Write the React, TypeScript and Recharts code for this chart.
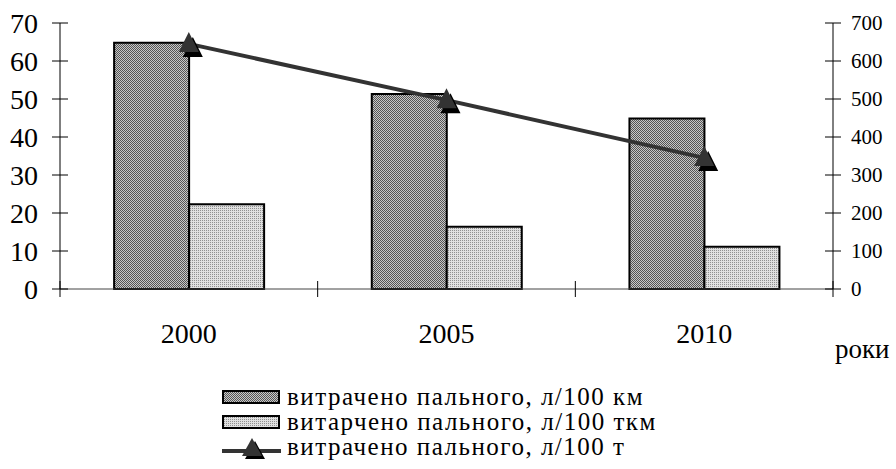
import React from 'react';
import { ComposedChart, Bar, Line, XAxis, YAxis } from 'recharts';

const years = ['2000', '2005', '2010'];
const fuelPer100km = [64.8, 51.3, 44.9];
const fuelPer100tkm = [22.3, 16.4, 11.1];
const fuelPer100t = [645, 497, 345];
const leftTicks = [0, 10, 20, 30, 40, 50, 60, 70];
const rightTicks = [0, 100, 200, 300, 400, 500, 600, 700];

const seriesNames = [
  'витрачено пального, л/100 км',
  'витарчено пального, л/100 ткм',
  'витрачено пального, л/100 т',
];

const data = years.map((y, i) => ({
  year: y,
  km: fuelPer100km[i],
  tkm: fuelPer100tkm[i],
  t: fuelPer100t[i],
}));

const FONT = '"Liberation Serif", "Times New Roman", serif';

const LeftTick = (props: any) => {
  const { x, y, payload } = props;
  return (
    <g>
      <line x1={x - 8} x2={x + 8} y1={y} y2={y} stroke="#000" strokeWidth={1} />
      <text x={x - 22} y={y} dy={10} textAnchor="end" fontFamily={FONT} fontSize={28} fill="#000">
        {payload.value}
      </text>
    </g>
  );
};

const RightTick = (props: any) => {
  const { x, y, payload } = props;
  return (
    <g>
      <line x1={x - 8} x2={x + 8} y1={y} y2={y} stroke="#000" strokeWidth={1} />
      <text x={x + 18} y={y} dy={7} textAnchor="start" fontFamily={FONT} fontSize={21} fill="#000">
        {payload.value}
      </text>
    </g>
  );
};

const BottomTick = (props: any) => {
  const { x, y, payload, index, visibleTicksCount, width } = props;
  const bw = width / visibleTicksCount;
  const isLast = index === visibleTicksCount - 1;
  return (
    <g>
      <line x1={x - bw / 2} x2={x - bw / 2} y1={y - 8} y2={y + 8} stroke="#000" strokeWidth={1} />
      {isLast && (
        <line x1={x + bw / 2} x2={x + bw / 2} y1={y - 8} y2={y + 8} stroke="#000" strokeWidth={1} />
      )}
      <text x={x} y={y + 54} textAnchor="middle" fontFamily={FONT} fontSize={28} fill="#000">
        {payload.value}
      </text>
    </g>
  );
};

const TriangleDot = (props: any) => {
  const { cx, cy } = props;
  if (cx == null || cy == null) return null;
  const tri = (ox: number, oy: number) =>
    `${cx + ox},${cy - 12 + oy} ${cx - 10 + ox},${cy + 8 + oy} ${cx + 10 + ox},${cy + 8 + oy}`;
  return (
    <g>
      <polygon points={tri(4, 5)} fill="#000" />
      <polygon points={tri(0, 0)} fill="#333" />
    </g>
  );
};

const Patterns = () => (
  <svg width={0} height={0} style={{ position: 'absolute' }}>
    <defs>
      <pattern id="patDark" width={2} height={2} patternUnits="userSpaceOnUse">
        <rect width={2} height={2} fill="#c8c8c8" />
        <rect x={0} y={0} width={1} height={1} fill="#555" />
        <rect x={1} y={1} width={1} height={1} fill="#555" />
      </pattern>
      <pattern id="patLight" width={2} height={2} patternUnits="userSpaceOnUse">
        <rect width={2} height={2} fill="#e0e0e0" />
        <rect x={0} y={0} width={1} height={1} fill="#909090" />
      </pattern>
    </defs>
  </svg>
);

const LegendBlock = () => {
  const rowStyle: React.CSSProperties = {
    display: 'flex',
    alignItems: 'center',
    height: 25,
    whiteSpace: 'nowrap',
  };
  const textStyle: React.CSSProperties = {
    fontFamily: FONT,
    fontSize: 25,
    letterSpacing: 1.5,
    lineHeight: '25px',
    marginLeft: 6,
    color: '#000',
  };
  return (
    <div style={{ position: 'absolute', left: 222, top: 384 }}>
      <div style={rowStyle}>
        <svg width={59} height={14}>
          <rect x={1} y={1} width={56} height={12} fill="url(#patDark)" stroke="#000" strokeWidth={2} />
        </svg>
        <span style={textStyle}>{seriesNames[0]}</span>
      </div>
      <div style={rowStyle}>
        <svg width={59} height={14}>
          <rect x={1} y={1} width={56} height={12} fill="url(#patLight)" stroke="#000" strokeWidth={2} />
        </svg>
        <span style={textStyle}>{seriesNames[1]}</span>
      </div>
      <div style={rowStyle}>
        <svg width={59} height={24}>
          <line x1={0} x2={59} y1={16} y2={16} stroke="#333" strokeWidth={4} />
          <polygon points="33,6 23,24 43,24" fill="#000" />
          <polygon points="30,3 20,21 40,21" fill="#333" />
        </svg>
        <span style={textStyle}>{seriesNames[2]}</span>
      </div>
    </div>
  );
};

export default function App() {
  return (
    <div style={{ position: 'absolute', left: 0, top: 0, width: 896, height: 469, background: '#fff' }}>
      <Patterns />
      <ComposedChart
        width={896}
        height={469}
        data={data}
        margin={{ top: 23, right: 0, bottom: 120, left: 0 }}
        barGap={0}
        barCategoryGap="21%"
      >
        <XAxis
          dataKey="year"
          height={60}
          tickLine={false}
          tickSize={0}
          tickMargin={0}
          axisLine={{ stroke: '#444', strokeWidth: 1 }}
          tick={<BottomTick />}
          interval={0}
          label={{
            content: (p: any) => {
              const vb = p.viewBox || {};
              return (
                <text
                  x={vb.x + vb.width + 2}
                  y={vb.y + 69}
                  textAnchor="start"
                  fontFamily={FONT}
                  fontSize={27}
                  fill="#000"
                >
                  роки
                </text>
              );
            },
          }}
        />
        <YAxis
          yAxisId="left"
          orientation="left"
          width={60}
          domain={[0, 70]}
          ticks={leftTicks}
          interval={0}
          tickLine={false}
          tickSize={0}
          tickMargin={0}
          axisLine={{ stroke: '#000', strokeWidth: 1 }}
          tick={<LeftTick />}
        />
        <YAxis
          yAxisId="right"
          orientation="right"
          width={63}
          domain={[0, 700]}
          ticks={rightTicks}
          interval={0}
          tickLine={false}
          tickSize={0}
          tickMargin={0}
          axisLine={{ stroke: '#000', strokeWidth: 1 }}
          tick={<RightTick />}
        />
        <Bar
          yAxisId="left"
          dataKey="km"
          name={seriesNames[0]}
          fill="url(#patDark)"
          stroke="#000"
          strokeWidth={2}
          isAnimationActive={false}
        />
        <Bar
          yAxisId="left"
          dataKey="tkm"
          name={seriesNames[1]}
          fill="url(#patLight)"
          stroke="#000"
          strokeWidth={2}
          isAnimationActive={false}
        />
        <Line
          yAxisId="right"
          dataKey="t"
          name={seriesNames[2]}
          type="linear"
          stroke="#333"
          strokeWidth={4}
          dot={<TriangleDot />}
          activeDot={false}
          isAnimationActive={false}
        />
      </ComposedChart>
      <LegendBlock />
    </div>
  );
}
